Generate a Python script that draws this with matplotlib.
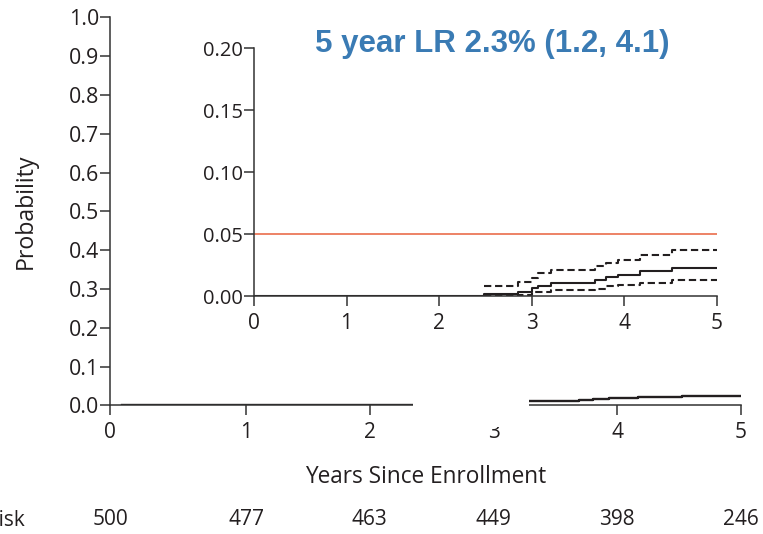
import matplotlib
matplotlib.use("Agg")
import matplotlib.pyplot as plt
from matplotlib.patches import Rectangle

plt.rcParams['font.family'] = ['Open Sans', 'DejaVu Sans']

# cumulative incidence
times = [0, 2.49, 2.85, 3.00, 3.07, 3.21, 3.69, 3.80, 3.93, 4.17, 4.52, 5.0]
estimate = [0, 0.002, 0.004, 0.0066, 0.0085, 0.011, 0.0134, 0.0155, 0.0177, 0.0203, 0.023, 0.023]

ci_times = [2.49, 2.85, 3.00, 3.07, 3.21, 3.69, 3.80, 3.93, 4.17, 4.52, 5.0]
upper = [0.0088, 0.0115, 0.015, 0.0187, 0.0214, 0.0245, 0.0268, 0.0298, 0.0338, 0.0375, 0.0375]
lower = [0.0005, 0.001, 0.0035, 0.004, 0.005, 0.0062, 0.0085, 0.0095, 0.0107, 0.0134, 0.0134]

threshold = 0.05
main_ticks = [-0.1, 1, 2, 3, 4, 5]
main_labels = ['0', '1', '2', '3', '4', '5']
at_risk = [500, 477, 463, 449, 398, 246]

ink = '#231f20'

fig = plt.figure(figsize=(7.63, 5.34), dpi=100)

# main panel
ax = fig.add_axes([0.1442, 0.2410, 0.9712 - 0.1442, 0.9676 - 0.2410])
ax.plot(times, estimate, drawstyle='steps-post', color=ink, lw=1.7)
ax.set_xlim(-0.1, 5)
ax.set_ylim(0, 1.0)
ax.set_yticks([i / 10 for i in range(11)])
ax.set_yticklabels([f'{i / 10:.1f}' for i in range(11)])
ax.set_xticks(main_ticks)
ax.set_xticklabels(main_labels)
for s in ['top', 'right']:
    ax.spines[s].set_visible(False)
for s in ['left', 'bottom']:
    ax.spines[s].set_linewidth(1.1)
    ax.spines[s].set_color('#333333')
ax.tick_params(axis='both', length=7, width=1.1, color='#333333', labelcolor=ink)
ax.tick_params(axis='y', labelsize=15.4, pad=1)
ax.tick_params(axis='x', labelsize=15, pad=5)
ax.set_ylabel('Probability', fontsize=16.7, color=ink, labelpad=22)
ax.set_xlabel('Years Since Enrollment', fontsize=16.3, color=ink, labelpad=16)
ax.set_zorder(0)

# at-risk row
for t, n in zip(main_ticks, at_risk):
    ax.text(t, -0.295, str(n), transform=ax.get_xaxis_transform(),
            ha='center', va='center', fontsize=15, color=ink, clip_on=False)
fig.text(25 / 763, 1 - 521 / 534, 'At risk', ha='right', va='center', fontsize=15, color=ink)

# white patch that hides part of the main axis
fig.patches.append(Rectangle((413 / 763, 1 - 427 / 534), (529 - 413) / 763, (427 - 300) / 534,
                             transform=fig.transFigure, facecolor='white', edgecolor='none',
                             zorder=2))

# inset
axin = fig.add_axes([0.3329, 0.4448, 0.9393 - 0.3329, 0.9092 - 0.4448])
axin.set_zorder(5)
axin.patch.set_alpha(0)
axin.axhline(threshold, color='#e8603c', lw=1.1, xmin=0, xmax=1)
axin.plot(times, estimate, drawstyle='steps-post', color=ink, lw=1.5)
axin.plot(ci_times, upper, drawstyle='steps-post', color=ink, lw=1.5, linestyle=(0, (3.5, 1.8)))
axin.plot(ci_times, lower, drawstyle='steps-post', color=ink, lw=1.5, linestyle=(0, (3.5, 1.8)))
axin.set_xlim(0, 5)
axin.set_ylim(0, 0.20)
axin.set_yticks([0, 0.05, 0.10, 0.15, 0.20])
axin.set_yticklabels(['0.00', '0.05', '0.10', '0.15', '0.20'])
axin.set_xticks(range(6))
for s in ['top', 'right']:
    axin.spines[s].set_visible(False)
for s in ['left', 'bottom']:
    axin.spines[s].set_linewidth(1.1)
    axin.spines[s].set_color('#333333')
axin.tick_params(axis='both', length=7, width=1.1, color='#333333', labelcolor=ink)
axin.tick_params(axis='y', labelsize=14.5, pad=1)
axin.tick_params(axis='x', labelsize=15, pad=5)
axin.text(0.514, 1.018, '5 year LR 2.3% (1.2, 4.1)', transform=axin.transAxes,
          fontsize=22.5, fontweight='bold', color='#3a7bb4', ha='center', va='center',
          family=['Liberation Sans', 'DejaVu Sans'])

fig.savefig('out.png', dpi=100)
